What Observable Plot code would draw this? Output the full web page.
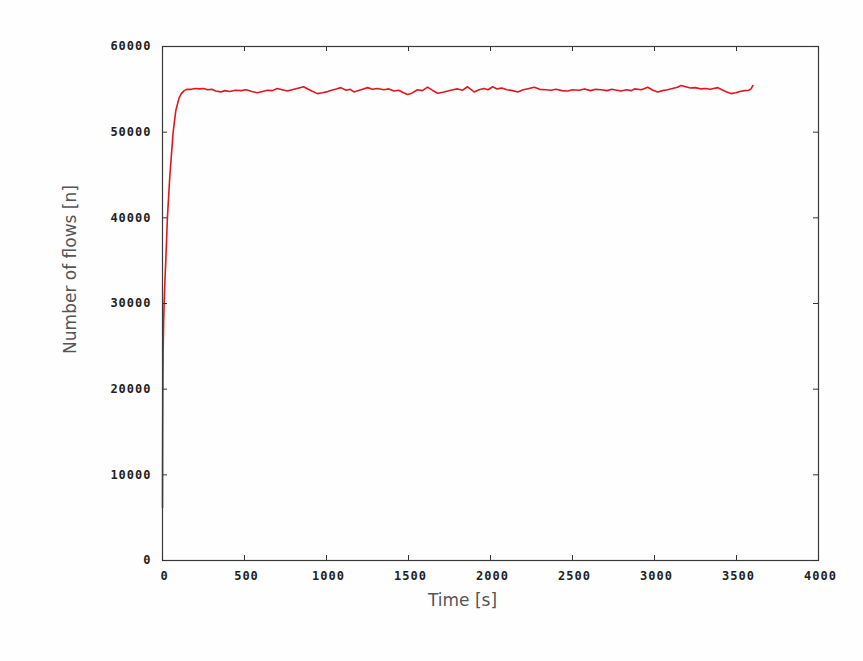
<!DOCTYPE html>
<html>
<head>
<meta charset="utf-8">
<script src="https://cdn.jsdelivr.net/npm/d3@7"></script>
<script src="https://cdn.jsdelivr.net/npm/@observablehq/plot@0.6"></script>
<style>
  html, body { margin: 0; padding: 0; background: #fdfefd; }
  #chart svg { display: block; }
</style>
</head>
<body>
<div id="chart"></div>
<script>
const timeS = [
  0, 1, 2, 4, 7, 10, 15, 20, 30, 45, 65, 81, 101, 115, 132, 150,
  175, 200, 225, 250, 275, 300, 325, 354, 380, 410, 445, 480, 510, 545, 578, 610,
  640, 670, 700, 730, 761, 790, 820, 861, 880, 910, 944, 975, 1000, 1030, 1060, 1087,
  1120, 1145, 1167, 1200, 1225, 1250, 1280, 1310, 1350, 1380, 1410, 1440, 1470, 1494,
  1520, 1555, 1585, 1616, 1645, 1677, 1710, 1740, 1770, 1799, 1830, 1860, 1880, 1901,
  1930, 1960, 1985, 2013, 2040, 2070, 2100, 2135, 2166, 2200, 2235, 2267, 2300, 2335,
  2369, 2400, 2435, 2471, 2500, 2540, 2573, 2610, 2640, 2674, 2710, 2740, 2770, 2796,
  2830, 2860, 2878, 2920, 2959, 2990, 3020, 3050, 3080, 3110, 3140, 3162, 3190, 3220,
  3250, 3284, 3310, 3340, 3360, 3386, 3410, 3440, 3467, 3495, 3520, 3550, 3575, 3589, 3600
];
const flows = [
  6200, 13000, 19000, 24500, 28000, 30000, 32800, 35000, 40000, 45000, 50000, 52500, 54000, 54500, 54850, 55000,
  55000, 55100, 55050, 55100, 54950, 55000, 54800, 54700, 54850, 54750, 54900, 54850, 54950, 54750, 54600, 54750,
  54900, 54850, 55100, 54950, 54800, 54950, 55100, 55300, 55100, 54800, 54500, 54600, 54700, 54900, 55050, 55200,
  54900, 55000, 54700, 54900, 55050, 55200, 55000, 55100, 54950, 55050, 54800, 54900, 54600, 54400,
  54550, 54950, 54850, 55250, 54900, 54550, 54650, 54800, 54950, 55050, 54900, 55300, 55000, 54700,
  54950, 55100, 54950, 55300, 55050, 55150, 54950, 54850, 54700, 54950, 55100, 55250, 55000, 54950,
  54900, 55000, 54850, 54800, 54950, 54900, 55050, 54850, 55000, 54950, 54850, 55000, 54900, 54800,
  54950, 54850, 55050, 54950, 55250, 54900, 54700, 54850, 54950, 55100, 55250, 55450, 55300, 55150,
  55200, 55050, 55100, 55000, 55100, 55200, 54950, 54700, 54500, 54600, 54750, 54850, 54900, 55050, 55450
];
const xTicks = [0, 500, 1000, 1500, 2000, 2500, 3000, 3500, 4000];
const yTicks = [0, 10000, 20000, 30000, 40000, 50000, 60000];
const xLabel = "Time [s]";
const yLabel = "Number of flows [n]";

const data = timeS.map((t, i) => ({t, n: flows[i]}));

const tickFont = "'DejaVu Sans Mono', monospace";
const labelFont = "'DejaVu Sans', sans-serif";

const W = 863, H = 661, ML = 162, MR = 45, MT = 46, MB = 101;
const innerW = W - ML - MR, innerH = H - MT - MB, tickLen = 5;

const chart = Plot.plot({
  width: W,
  height: H,
  marginLeft: ML,
  marginRight: MR,
  marginTop: MT,
  marginBottom: MB,
  style: {background: "transparent", overflow: "visible"},
  x: {domain: [0, 4000], axis: null},
  y: {domain: [0, 60000], axis: null},
  marks: [
    Plot.line(data, {x: "t", y: "n", stroke: "#e3161f", strokeWidth: 1.6}),
    Plot.frame({stroke: "#3a3a3a", strokeWidth: 1.2}),
    // inward ticks (bottom, top, left, right)
    Plot.tickX(xTicks, {x: d => d, insetTop: innerH - tickLen, stroke: "#333"}),
    Plot.tickX(xTicks, {x: d => d, insetBottom: innerH - tickLen, stroke: "#333"}),
    Plot.tickY(yTicks, {y: d => d, insetRight: innerW - tickLen, stroke: "#333"}),
    Plot.tickY(yTicks, {y: d => d, insetLeft: innerW - tickLen, stroke: "#333"}),
    // tick labels
    Plot.axisX({anchor: "bottom", ticks: xTicks, tickSize: 0, tickPadding: 11, tickFormat: d => String(d), label: null,
      fontFamily: tickFont, fontWeight: "bold", fontSize: 12, fill: "#222", dx: 2}),
    Plot.axisY({anchor: "left", ticks: yTicks, tickSize: 0, tickPadding: 11, tickFormat: d => String(d), label: null,
      fontFamily: tickFont, fontWeight: "bold", fontSize: 12, fill: "#222"}),
    // axis titles
    Plot.text([xLabel], {text: d => d, frameAnchor: "bottom", dy: 40, dx: -28, lineAnchor: "middle", textAnchor: "middle",
      fontFamily: labelFont, fontSize: 17, fill: "#555"}),
    Plot.text([yLabel], {text: d => d, frameAnchor: "left", dx: -92, dy: -34, rotate: -90, lineAnchor: "middle", textAnchor: "middle",
      fontFamily: labelFont, fontSize: 17, fill: "#555"})
  ]
});
chart.querySelectorAll("[aria-label$='tick label'] text").forEach(t => t.style.letterSpacing = "1px");
document.getElementById("chart").appendChild(chart);
</script>
</body>
</html>
